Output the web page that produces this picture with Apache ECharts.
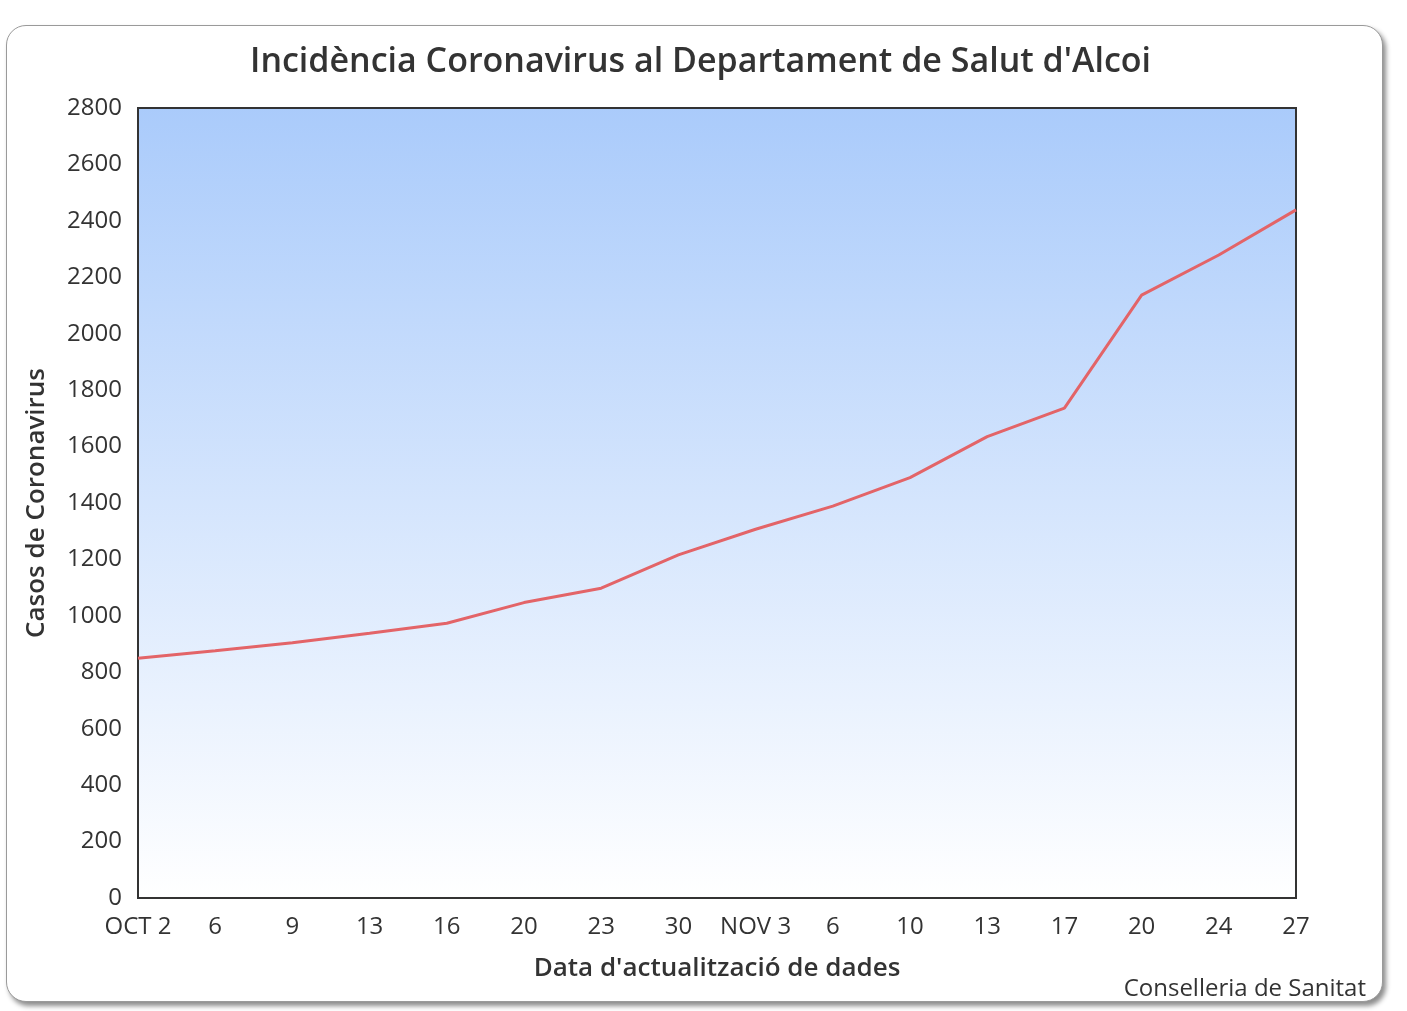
<!DOCTYPE html>
<html>
<head>
<meta charset="utf-8">
<script src="https://cdn.jsdelivr.net/npm/echarts@6/dist/echarts.min.js"></script>
<style>
  html, body { margin: 0; padding: 0; background: #ffffff; }
  #card {
    position: absolute; left: 6px; top: 25px; width: 1375px; height: 975px;
    border: 1px solid #9a9a9a; border-radius: 20px; background: #fff;
    box-shadow: 3px 4px 5px rgba(0, 0, 0, 0.45);
  }
  #main { position: absolute; left: 0; top: 0; width: 1407px; height: 1011px; }
</style>
</head>
<body>
<div id="card"></div>
<div id="main"></div>
<script>
// categories (dates) and cases
var dates = ['OCT 2', '6', '9', '13', '16', '20', '23', '30', 'NOV 3', '6', '10', '13', '17', '20', '24', '27'];
var casos = [850, 876, 905, 938, 974, 1047, 1098, 1216, 1307, 1389, 1490, 1635, 1736, 2137, 2279, 2439];

var chart = echarts.init(document.getElementById('main'));
var font = '"Open Sans", "Noto Sans", sans-serif';

var option = {
    backgroundColor: 'transparent',
    animation: false,
    title: [
        {
            text: "Incidència Coronavirus al Departament de Salut d'Alcoi",
            left: 245,
            top: 40,
            textStyle: { fontFamily: font, fontSize: 34, fontWeight: 600, color: '#333333' }
        },
        {
            text: 'Conselleria de Sanitat',
            right: 36,
            top: 972,
            textStyle: { fontFamily: font, fontSize: 24, fontWeight: 'normal', color: '#333333' }
        }
    ],
    grid: {
        left: 138,
        top: 108,
        right: 111,
        bottom: 113,
        show: true,
        borderColor: '#333333',
        borderWidth: 2,
        backgroundColor: new echarts.graphic.LinearGradient(0, 0, 0, 1, [
            { offset: 0, color: '#aacbfb' },
            { offset: 1, color: '#ffffff' }
        ])
    },
    xAxis: {
        type: 'category',
        boundaryGap: false,
        data: dates,
        name: "Data d'actualització de dades",
        nameLocation: 'middle',
        nameGap: 58,
        nameTextStyle: { fontFamily: font, fontSize: 26, fontWeight: 600, color: '#333333' },
        axisLine: { show: false },
        axisTick: { show: false },
        axisLabel: { fontFamily: font, fontSize: 24, color: '#333333', margin: 17, interval: 0 },
        splitLine: { show: false }
    },
    yAxis: {
        type: 'value',
        min: 0,
        max: 2800,
        interval: 200,
        name: 'Casos de Coronavirus',
        nameLocation: 'middle',
        nameGap: 88,
        nameTextStyle: { fontFamily: font, fontSize: 26, fontWeight: 600, color: '#333333' },
        axisLine: { show: false },
        axisTick: { show: false },
        axisLabel: {
            fontFamily: font, fontSize: 24, color: '#333333', margin: 16,
            formatter: function (v) { return String(v); }
        },
        splitLine: { show: false }
    },
    series: [
        {
            name: 'Casos',
            type: 'line',
            data: casos,
            symbol: 'none',
            lineStyle: { color: '#e36468', width: 3 }
        }
    ]
};
chart.setOption(option);
</script>
</body>
</html>
